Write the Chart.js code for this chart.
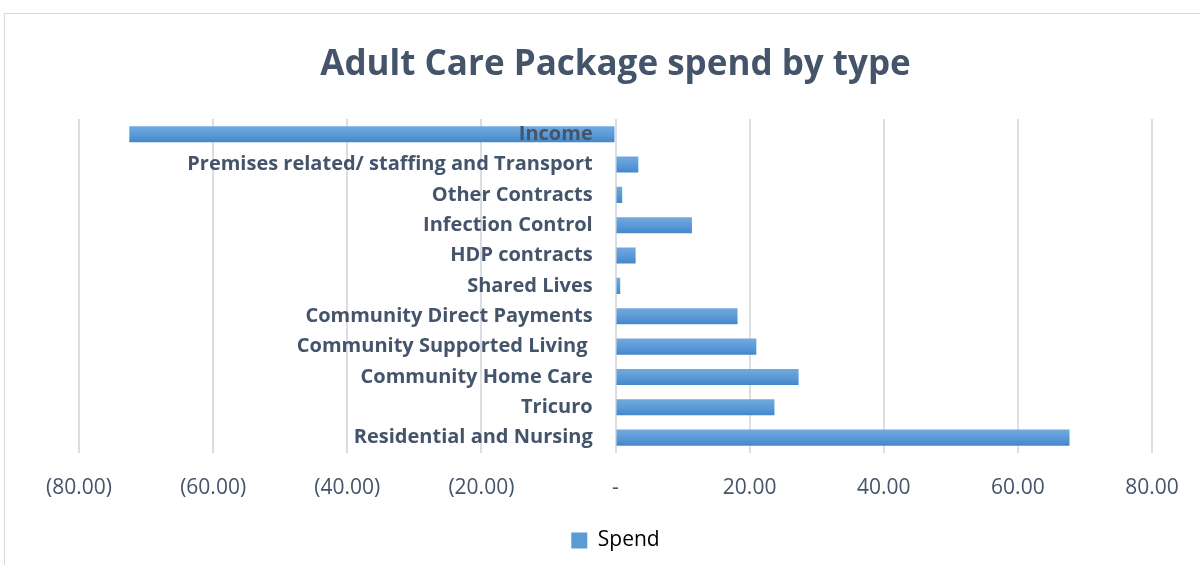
<!DOCTYPE html>
<html>
<head>
<meta charset="utf-8">
<title>Adult Care Package spend by type</title>
<script src="https://cdn.jsdelivr.net/npm/chart.js@4.4.1/dist/chart.umd.min.js"></script>
<style>
  html, body { margin: 0; padding: 0; background: #fff; }
  .frame {
    position: absolute; left: 4px; top: 13px;
    width: 1200px; height: 560px;
    border: 1px solid #d9d9d9; box-sizing: border-box;
  }
  .frame canvas { display: block; }
</style>
</head>
<body>
<div class="frame"><canvas id="spendChart" width="1198" height="558"></canvas></div>
<script>
// categories top to bottom, spend in £m
const categories = [
  'Income',
  'Premises related/ staffing and Transport',
  'Other Contracts',
  'Infection Control',
  'HDP contracts',
  'Shared Lives',
  'Community Direct Payments',
  'Community Supported Living ',
  'Community Home Care',
  'Tricuro',
  'Residential and Nursing'
];
const spend = [-72.5, 3.4, 1.0, 11.4, 3.0, 0.7, 18.2, 21.0, 27.3, 23.7, 67.7];
const xTicks = [-80, -60, -40, -20, 0, 20, 40, 60, 80];

const textColor = '#44546a';
const gridColor = '#dadde2';

function fmt(v) {
  if (v === 0) return '-';
  const s = Math.abs(v).toFixed(2);
  return v < 0 ? '(' + s + ')' : s;
}

// each bar gets its own light-to-dark vertical fill
function barFill(ctx) {
  const chart = ctx.chart;
  const y = chart.scales && chart.scales.y;
  if (!y || ctx.dataIndex === undefined || !chart.chartArea) return '#5b9bd5';
  const mid = y.getPixelForValue(ctx.dataIndex);
  const g = chart.ctx.createLinearGradient(0, mid - 8, 0, mid + 8);
  g.addColorStop(0, '#72a9de');
  g.addColorStop(0.5, '#5c9bd8');
  g.addColorStop(1, '#4387cb');
  return g;
}

new Chart(document.getElementById('spendChart'), {
  type: 'bar',
  data: {
    labels: categories,
    datasets: [{
      label: 'Spend',
      data: spend,
      backgroundColor: barFill,
      borderWidth: 0,
      barPercentage: 0.53,
      categoryPercentage: 1.0
    }]
  },
  options: {
    indexAxis: 'y',
    responsive: false,
    animation: false,
    layout: { padding: { left: 74, right: 51, top: 0, bottom: 11 } },
    scales: {
      x: {
        min: -80, max: 80,
        afterBuildTicks: axis => { axis.ticks = xTicks.map(v => ({ value: v })); },
        grid: { color: gridColor, lineWidth: 2, drawTicks: false },
        border: { display: false },
        ticks: {
          color: textColor,
          padding: 23,
          font: { family: 'Open Sans', size: 21 },
          callback: v => fmt(v)
        }
      },
      y: {
        // category names sit just left of the zero line, drawn over the bars
        position: { x: -3.4 },
        grid: { display: false },
        border: { display: false },
        ticks: {
          z: 1,
          color: textColor,
          font: { family: 'Open Sans', size: 20, weight: 'bold' }
        }
      }
    },
    plugins: {
      title: {
        display: true,
        text: 'Adult Care Package spend by type',
        color: textColor,
        font: { family: 'Open Sans', size: 35, weight: 'bold' },
        padding: { top: 30, bottom: 33 }
      },
      legend: {
        position: 'bottom',
        labels: {
          color: textColor,
          boxWidth: 16, boxHeight: 16,
          padding: 6,
          font: { family: 'Open Sans', size: 21 },
          generateLabels: chart => [{
            text: 'Spend', fillStyle: '#5b9bd5', strokeStyle: '#5b9bd5',
            lineWidth: 0, datasetIndex: 0
          }]
        }
      },
      tooltip: { enabled: false }
    }
  }
});
</script>
</body>
</html>
